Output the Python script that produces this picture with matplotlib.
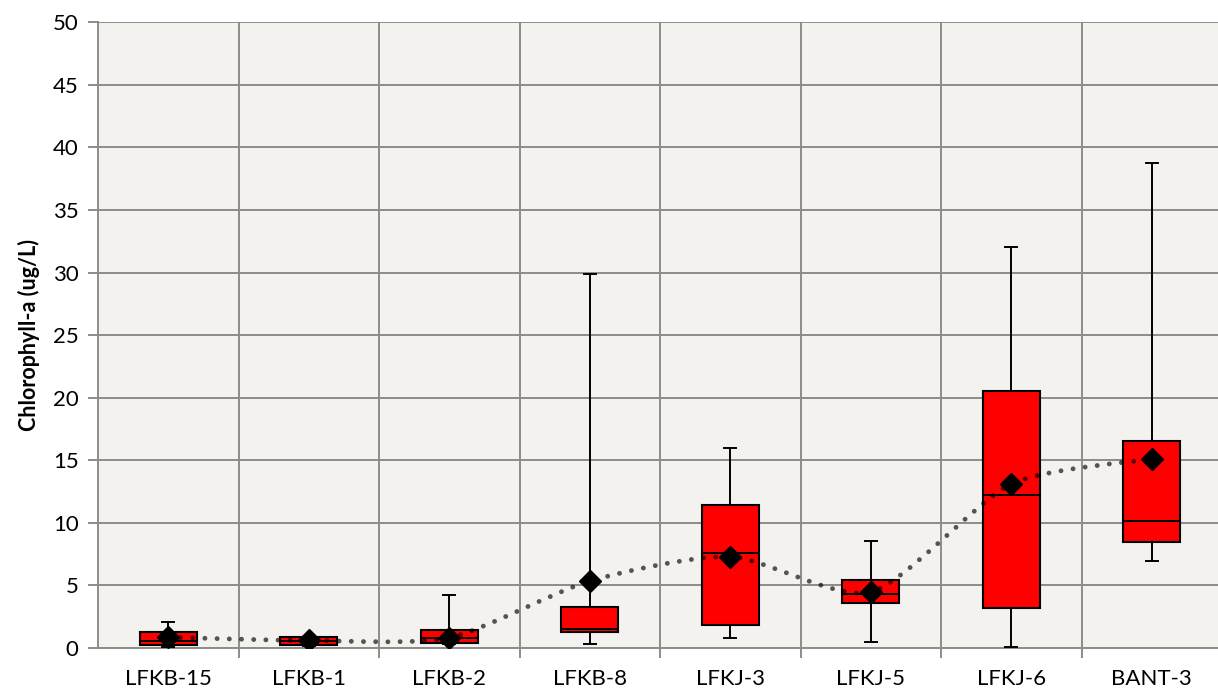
#!/usr/bin/env python3
import matplotlib
matplotlib.use("Agg")
import matplotlib.pyplot as plt
from matplotlib.path import Path
from matplotlib.patches import PathPatch

sites = ["LFKB-15", "LFKB-1", "LFKB-2", "LFKB-8", "LFKJ-3", "LFKJ-5", "LFKJ-6", "BANT-3"]
whis_lo = [0.1, 0.15, 0.3, 0.32, 0.77, 0.5, 0.05, 6.92]
q1 = [0.2, 0.2, 0.43, 1.3, 1.84, 3.62, 3.17, 8.44]
median = [0.55, 0.53, 0.82, 1.55, 7.56, 4.29, 12.25, 10.12]
q3 = [1.25, 0.85, 1.4, 3.27, 11.42, 5.4, 20.55, 16.56]
whis_hi = [2.1, 0.9, 4.26, 29.9, 16.0, 8.52, 32.05, 38.74]
means = [0.85, 0.6, 0.82, 5.35, 7.3, 4.47, 13.1, 15.1]

BG = "#f3f2ee"
GRID = "#8c8c8c"


def smooth_path(xs, ys, tension=1 / 6):
    # Catmull-Rom style bezier, like the spreadsheet "smoothed line"
    verts = [(xs[0], ys[0])]
    codes = [Path.MOVETO]
    n = len(xs)
    for i in range(n - 1):
        x0, y0 = (xs[i - 1], ys[i - 1]) if i > 0 else (xs[i], ys[i])
        x1, y1 = xs[i], ys[i]
        x2, y2 = xs[i + 1], ys[i + 1]
        x3, y3 = (xs[i + 2], ys[i + 2]) if i + 2 < n else (x2, y2)
        c1 = (x1 + (x2 - x0) * tension, y1 + (y2 - y0) * tension)
        c2 = (x2 - (x3 - x1) * tension, y2 - (y3 - y1) * tension)
        verts += [c1, c2, (x2, y2)]
        codes += [Path.CURVE4] * 3
    return Path(verts, codes)


plt.rcParams["font.family"] = ["Lato", "DejaVu Sans"]

fig = plt.figure(figsize=(12.18, 6.96), dpi=100)
ax = fig.add_axes([0.0805, 0.069, 0.9228, 0.899])
ax.set_facecolor(BG)

positions = list(range(1, len(sites) + 1))
stats = []
for i in range(len(sites)):
    stats.append({
        "whislo": whis_lo[i], "q1": q1[i], "med": median[i],
        "q3": q3[i], "whishi": whis_hi[i], "fliers": [],
    })

ax.bxp(
    stats, positions=positions, widths=0.405, patch_artist=True,
    showfliers=False, capwidths=0.085,
    boxprops=dict(facecolor="#ff0000", edgecolor="black", linewidth=1.5),
    medianprops=dict(color="black", linewidth=1.4),
    whiskerprops=dict(color="black", linewidth=1.4),
    capprops=dict(color="black", linewidth=1.4),
    zorder=3,
)

line = PathPatch(
    smooth_path(positions, means, tension=0.12), fill=False, edgecolor="black",
    alpha=0.65, linewidth=3.5, linestyle=(0, (0.01, 2.5)), capstyle="round",
    zorder=4,
)
ax.add_patch(line)
ax.plot(positions, means, linestyle="none", marker="D", markersize=11,
        color="black", zorder=5)

ax.set_xlim(0.5, len(sites) + 0.5)
ax.set_ylim(0, 50)
ax.set_yticks(range(0, 51, 5))
ax.set_xticks([p + 0.5 for p in positions[:-1]], minor=False)
ax.set_xticklabels([])
ax.set_xticks(positions, minor=True)
ax.set_xticklabels(sites, minor=True)
ax.tick_params(axis="x", which="minor", length=0, labelsize=16, pad=15)
ax.tick_params(axis="x", which="major", length=7, width=1.4, color=GRID)
ax.tick_params(axis="y", length=7, width=1.4, color=GRID, labelsize=16, pad=7)

ax.grid(True, which="major", color=GRID, linewidth=1.4)
ax.set_axisbelow(True)
for side in ["top", "right"]:
    ax.spines[side].set_visible(False)
ax.spines["left"].set_color(GRID)
ax.spines["left"].set_linewidth(1.4)
ax.spines["bottom"].set_color(GRID)
ax.spines["bottom"].set_linewidth(1.4)

ax.set_ylabel("Chlorophyll-a (ug/L)", fontsize=15.5, fontweight="bold", labelpad=9)

fig.savefig("out.png", dpi=100)
plt.close(fig)
